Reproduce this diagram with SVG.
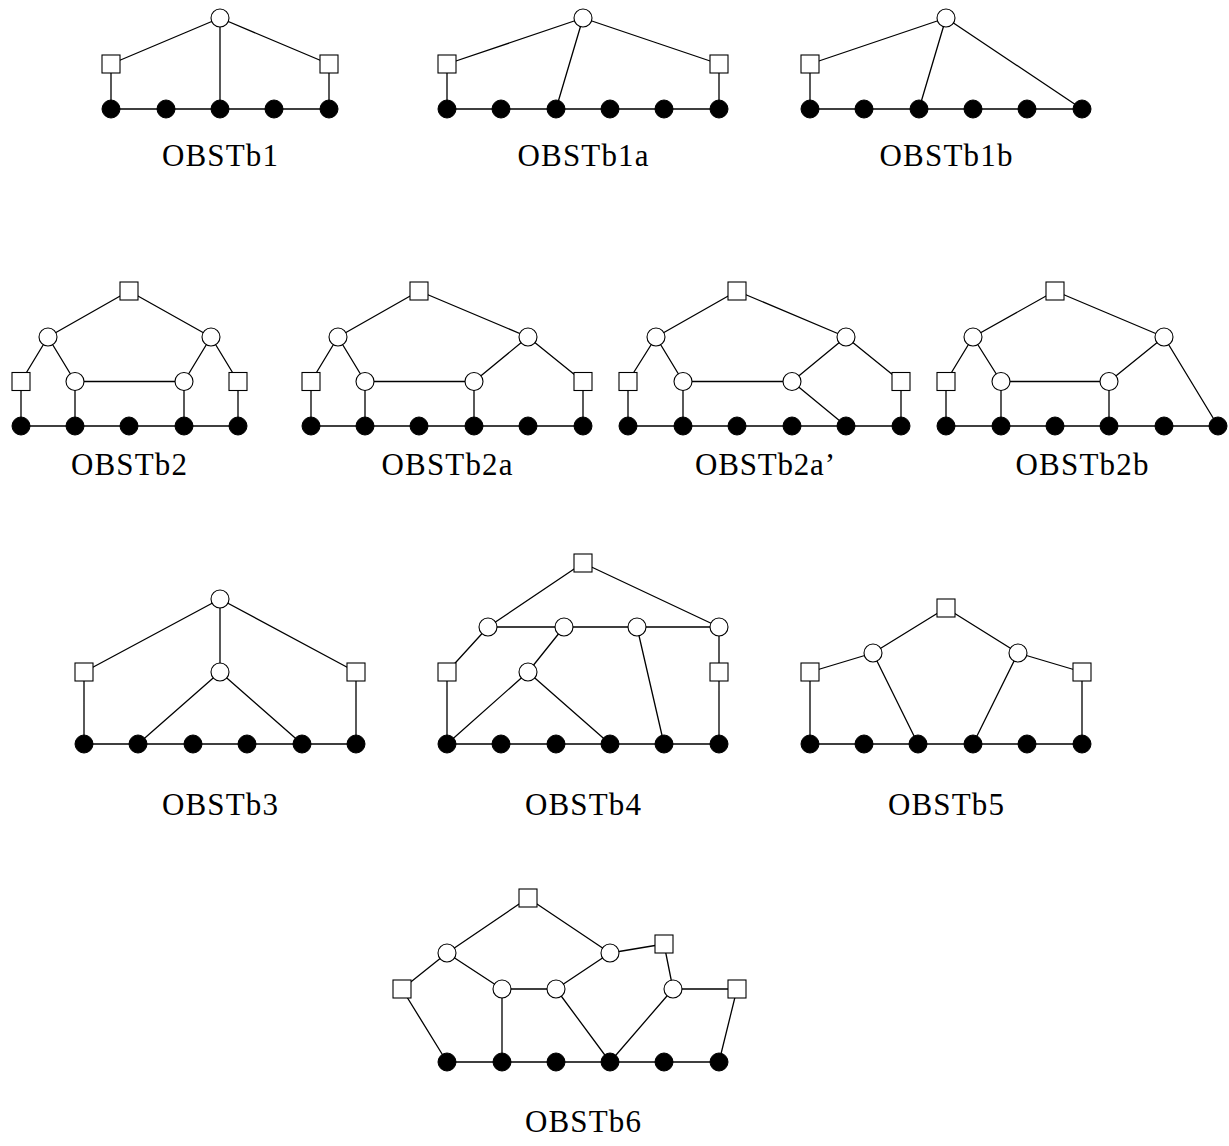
<svg xmlns="http://www.w3.org/2000/svg" width="1229" height="1146" viewBox="0 0 1229 1146">
<style>
.e{stroke:#000;stroke-width:1.3;fill:none}
.o{fill:#fff;stroke:#000;stroke-width:1.1}
.b{fill:#000;stroke:#000;stroke-width:1}
.t{font-family:"Liberation Serif","DejaVu Serif",serif;font-size:31px;text-anchor:middle;fill:#000}
</style>
<rect width="1229" height="1146" fill="#fff"/>
<g id="connectors">
<path class="e" d="M111 109H329M220 18L111 64M220 18L329 64M220 18V109M111 64V109M329 64V109"/>
<path class="e" d="M447 109H719M583 18L447 64M583 18L719 64M583 18L556 109M447 64V109M719 64V109"/>
<path class="e" d="M810 109H1082M946 18L810 64M946 18L919 109M946 18L1082 109M810 64V109"/>
<path class="e" d="M21 426H238M129 291L48 337M129 291L211 337M48 337L21 381.5M48 337L75 381.5M211 337L184 381.5M211 337L238 381.5M75 381.5H184M21 381.5V426M75 381.5V426M184 381.5V426M238 381.5V426"/>
<path class="e" d="M311 426H583M419 291L338 337M419 291L528 337M338 337L311 381.5M338 337L365 381.5M528 337L474 381.5M528 337L583 381.5M365 381.5H474M311 381.5V426M365 381.5V426M474 381.5V426M583 381.5V426"/>
<path class="e" d="M628 426H901M737 291L656 337M737 291L846 337M656 337L628 381.5M656 337L683 381.5M846 337L792 381.5M846 337L901 381.5M683 381.5H792M628 381.5V426M683 381.5V426M792 381.5L846 426M901 381.5V426"/>
<path class="e" d="M946 426H1218M1055 291L973 337M1055 291L1164 337M973 337L946 381.5M973 337L1001 381.5M1164 337L1109 381.5M1164 337L1218 426M1001 381.5H1109M946 381.5V426M1001 381.5V426M1109 381.5V426"/>
<path class="e" d="M84 744H356M220 599L84 672M220 599L356 672M220 599V672M220 672L138 744M220 672L302 744M84 672V744M356 672V744"/>
<path class="e" d="M447 744H719M583 563L488 627M583 563L719 627M488 627H719M488 627L447 672M564 627L528 672M528 672L447 744M528 672L610 744M637 627L664 744M719 627V744M447 672V744"/>
<path class="e" d="M810 744H1082M946 608L873 653M946 608L1018 653M873 653L810 672M1018 653L1082 672M873 653L918 744M1018 653L973 744M810 672V744M1082 672V744"/>
<path class="e" d="M447 1062H719M528 898L447 953M528 898L610 953M447 953L402 989M447 953L502 989M610 953L556 989M610 953L664 944M664 944L673 989M502 989H556M673 989H737M402 989L447 1062M502 989V1062M556 989L610 1062M673 989L610 1062M737 989L719 1062"/>
</g>
<g id="OBSTb1">
<circle class="o" cx="220" cy="18" r="9"/>
<rect class="o" x="102" y="55" width="18" height="18"/>
<rect class="o" x="320" y="55" width="18" height="18"/>
<circle class="b" cx="111" cy="109" r="9"/><circle class="b" cx="166" cy="109" r="9"/><circle class="b" cx="220" cy="109" r="9"/><circle class="b" cx="274" cy="109" r="9"/><circle class="b" cx="329" cy="109" r="9"/>
<text class="t" x="220" y="166" textLength="116">OBSTb1</text>
</g>
<g id="OBSTb1a">
<circle class="o" cx="583" cy="18" r="9"/>
<rect class="o" x="438" y="55" width="18" height="18"/>
<rect class="o" x="710" y="55" width="18" height="18"/>
<circle class="b" cx="447" cy="109" r="9"/><circle class="b" cx="501" cy="109" r="9"/><circle class="b" cx="556" cy="109" r="9"/><circle class="b" cx="610" cy="109" r="9"/><circle class="b" cx="664" cy="109" r="9"/><circle class="b" cx="719" cy="109" r="9"/>
<text class="t" x="583" y="166" textLength="131">OBSTb1a</text>
</g>
<g id="OBSTb1b">
<circle class="o" cx="946" cy="18" r="9"/>
<rect class="o" x="801" y="55" width="18" height="18"/>
<circle class="b" cx="810" cy="109" r="9"/><circle class="b" cx="864" cy="109" r="9"/><circle class="b" cx="919" cy="109" r="9"/><circle class="b" cx="973" cy="109" r="9"/><circle class="b" cx="1027" cy="109" r="9"/><circle class="b" cx="1082" cy="109" r="9"/>
<text class="t" x="946" y="166" textLength="133">OBSTb1b</text>
</g>
<g id="OBSTb2">
<rect class="o" x="120" y="282" width="18" height="18"/>
<circle class="o" cx="48" cy="337" r="9"/><circle class="o" cx="211" cy="337" r="9"/>
<rect class="o" x="12" y="372.5" width="18" height="18"/><rect class="o" x="229" y="372.5" width="18" height="18"/>
<circle class="o" cx="75" cy="381.5" r="9"/><circle class="o" cx="184" cy="381.5" r="9"/>
<circle class="b" cx="21" cy="426" r="9"/><circle class="b" cx="75" cy="426" r="9"/><circle class="b" cx="129" cy="426" r="9"/><circle class="b" cx="184" cy="426" r="9"/><circle class="b" cx="238" cy="426" r="9"/>
<text class="t" x="129" y="475" textLength="116">OBSTb2</text>
</g>
<g id="OBSTb2a">
<rect class="o" x="410" y="282" width="18" height="18"/>
<circle class="o" cx="338" cy="337" r="9"/><circle class="o" cx="528" cy="337" r="9"/>
<rect class="o" x="302" y="372.5" width="18" height="18"/><rect class="o" x="574" y="372.5" width="18" height="18"/>
<circle class="o" cx="365" cy="381.5" r="9"/><circle class="o" cx="474" cy="381.5" r="9"/>
<circle class="b" cx="311" cy="426" r="9"/><circle class="b" cx="365" cy="426" r="9"/><circle class="b" cx="419" cy="426" r="9"/><circle class="b" cx="474" cy="426" r="9"/><circle class="b" cx="528" cy="426" r="9"/><circle class="b" cx="583" cy="426" r="9"/>
<text class="t" x="447" y="475" textLength="131">OBSTb2a</text>
</g>
<g id="OBSTb2a-prime">
<rect class="o" x="728" y="282" width="18" height="18"/>
<circle class="o" cx="656" cy="337" r="9"/><circle class="o" cx="846" cy="337" r="9"/>
<rect class="o" x="619" y="372.5" width="18" height="18"/><rect class="o" x="892" y="372.5" width="18" height="18"/>
<circle class="o" cx="683" cy="381.5" r="9"/><circle class="o" cx="792" cy="381.5" r="9"/>
<circle class="b" cx="628" cy="426" r="9"/><circle class="b" cx="683" cy="426" r="9"/><circle class="b" cx="737" cy="426" r="9"/><circle class="b" cx="792" cy="426" r="9"/><circle class="b" cx="846" cy="426" r="9"/><circle class="b" cx="901" cy="426" r="9"/>
<text class="t" x="765" y="475" textLength="140">OBSTb2a’</text>
</g>
<g id="OBSTb2b">
<rect class="o" x="1046" y="282" width="18" height="18"/>
<circle class="o" cx="973" cy="337" r="9"/><circle class="o" cx="1164" cy="337" r="9"/>
<rect class="o" x="937" y="372.5" width="18" height="18"/>
<circle class="o" cx="1001" cy="381.5" r="9"/><circle class="o" cx="1109" cy="381.5" r="9"/>
<circle class="b" cx="946" cy="426" r="9"/><circle class="b" cx="1001" cy="426" r="9"/><circle class="b" cx="1055" cy="426" r="9"/><circle class="b" cx="1109" cy="426" r="9"/><circle class="b" cx="1164" cy="426" r="9"/><circle class="b" cx="1218" cy="426" r="9"/>
<text class="t" x="1082" y="475" textLength="133">OBSTb2b</text>
</g>
<g id="OBSTb3">
<circle class="o" cx="220" cy="599" r="9"/>
<rect class="o" x="75" y="663" width="18" height="18"/><rect class="o" x="347" y="663" width="18" height="18"/>
<circle class="o" cx="220" cy="672" r="9"/>
<circle class="b" cx="84" cy="744" r="9"/><circle class="b" cx="138" cy="744" r="9"/><circle class="b" cx="193" cy="744" r="9"/><circle class="b" cx="247" cy="744" r="9"/><circle class="b" cx="302" cy="744" r="9"/><circle class="b" cx="356" cy="744" r="9"/>
<text class="t" x="220" y="815" textLength="116">OBSTb3</text>
</g>
<g id="OBSTb4">
<rect class="o" x="574" y="554" width="18" height="18"/>
<circle class="o" cx="488" cy="627" r="9"/><circle class="o" cx="564" cy="627" r="9"/><circle class="o" cx="637" cy="627" r="9"/><circle class="o" cx="719" cy="627" r="9"/>
<rect class="o" x="438" y="663" width="18" height="18"/><rect class="o" x="710" y="663" width="18" height="18"/>
<circle class="o" cx="528" cy="672" r="9"/>
<circle class="b" cx="447" cy="744" r="9"/><circle class="b" cx="501" cy="744" r="9"/><circle class="b" cx="556" cy="744" r="9"/><circle class="b" cx="610" cy="744" r="9"/><circle class="b" cx="664" cy="744" r="9"/><circle class="b" cx="719" cy="744" r="9"/>
<text class="t" x="583" y="815" textLength="116">OBSTb4</text>
</g>
<g id="OBSTb5">
<rect class="o" x="937" y="599" width="18" height="18"/>
<circle class="o" cx="873" cy="653" r="9"/><circle class="o" cx="1018" cy="653" r="9"/>
<rect class="o" x="801" y="663" width="18" height="18"/><rect class="o" x="1073" y="663" width="18" height="18"/>
<circle class="b" cx="810" cy="744" r="9"/><circle class="b" cx="864" cy="744" r="9"/><circle class="b" cx="918" cy="744" r="9"/><circle class="b" cx="973" cy="744" r="9"/><circle class="b" cx="1027" cy="744" r="9"/><circle class="b" cx="1082" cy="744" r="9"/>
<text class="t" x="946" y="815" textLength="116">OBSTb5</text>
</g>
<g id="OBSTb6">
<rect class="o" x="519" y="889" width="18" height="18"/>
<circle class="o" cx="447" cy="953" r="9"/><circle class="o" cx="610" cy="953" r="9"/>
<rect class="o" x="655" y="935" width="18" height="18"/>
<rect class="o" x="393" y="980" width="18" height="18"/>
<circle class="o" cx="502" cy="989" r="9"/><circle class="o" cx="556" cy="989" r="9"/><circle class="o" cx="673" cy="989" r="9"/>
<rect class="o" x="728" y="980" width="18" height="18"/>
<circle class="b" cx="447" cy="1062" r="9"/><circle class="b" cx="502" cy="1062" r="9"/><circle class="b" cx="556" cy="1062" r="9"/><circle class="b" cx="610" cy="1062" r="9"/><circle class="b" cx="664" cy="1062" r="9"/><circle class="b" cx="719" cy="1062" r="9"/>
<text class="t" x="583" y="1132" textLength="116">OBSTb6</text>
</g>
</svg>
